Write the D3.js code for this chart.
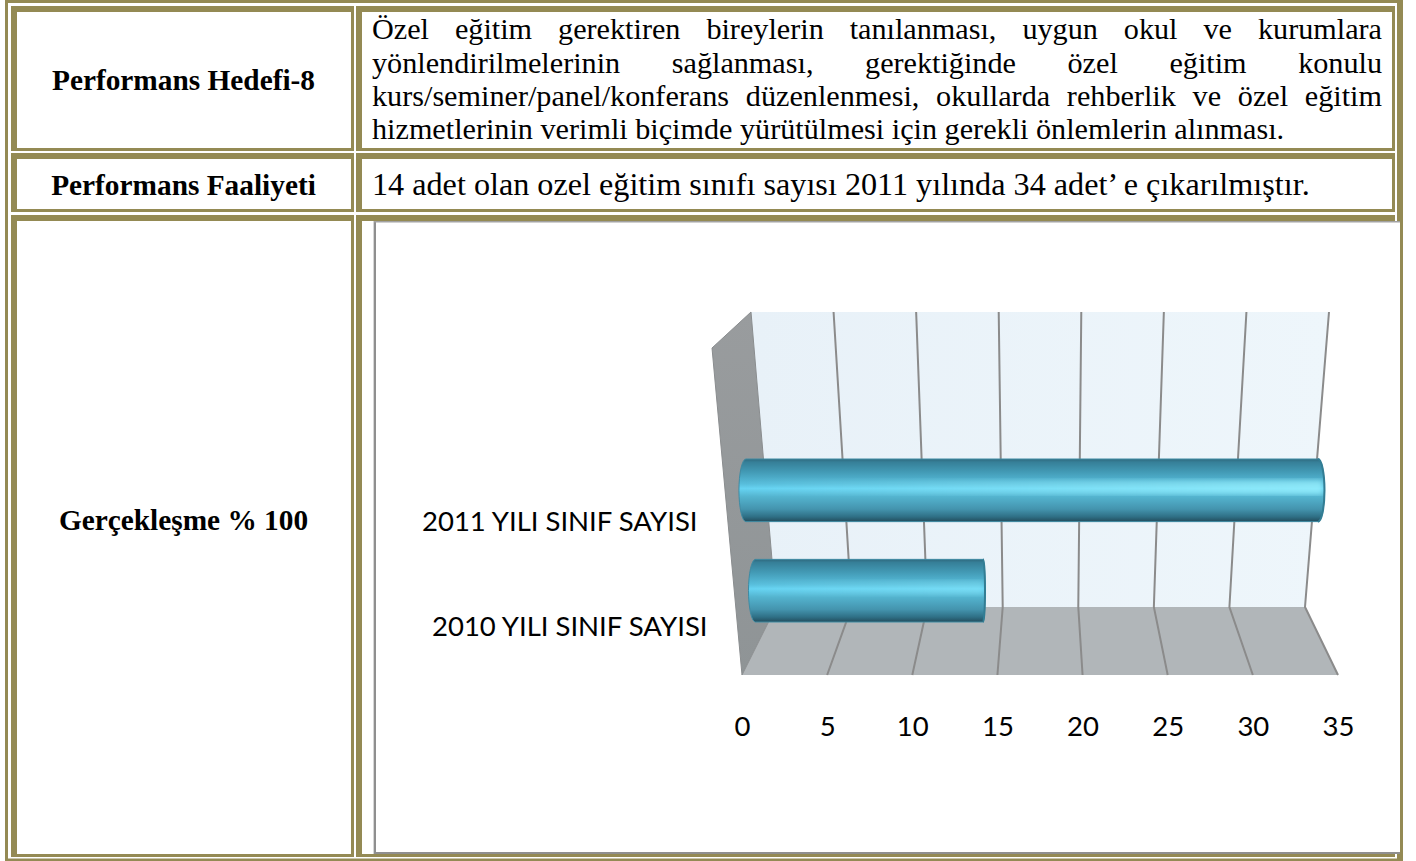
<!DOCTYPE html>
<html>
<head>
<meta charset="utf-8">
<script src="https://cdn.jsdelivr.net/npm/d3@7"></script>
<style>
  html, body { margin: 0; padding: 0; background: #fff; overflow: hidden; }
  svg { display: block; }
  .serif { font-family: "Liberation Serif", "Times New Roman", serif; fill: #000; }
  .sans { font-family: Lato, Carlito, sans-serif; fill: #000; }
</style>
</head>
<body>
<script>
// data
const categories = ["2011 YILI SINIF SAYISI", "2010 YILI SINIF SAYISI"];
const classCounts = [34, 14];
const tickValues = [0, 5, 10, 15, 20, 25, 30, 35];

const rowHeaders = ["Performans Hedefi-8", "Performans Faaliyeti", "Gerçekleşme % 100"];
const goalLines = [
  "Özel eğitim gerektiren bireylerin tanılanması, uygun okul ve kurumlara",
  "yönlendirilmelerinin sağlanması, gerektiğinde özel eğitim konulu",
  "kurs/seminer/panel/konferans düzenlenmesi, okullarda rehberlik ve özel eğitim",
  "hizmetlerinin verimli biçimde yürütülmesi için gerekli önlemlerin alınması."
];
const activityText = "14 adet olan ozel eğitim sınıfı sayısı 2011 yılında 34 adet’ e çıkarılmıştır.";

const width = 1416, height = 861;
const olive = "#948a54", gridGrey = "#8b8b8b";

const svg = d3.select("body").append("svg")
  .attr("width", width)
  .attr("height", height);

const defs = svg.append("defs");

// 1. Table frame and cells
svg.append("rect")
  .attr("x", 6.5).attr("y", 1.5)
  .attr("width", 1393.5).attr("height", 858.5)
  .attr("fill", "none").attr("stroke", olive).attr("stroke-width", 3);
svg.append("rect").attr("x", 1397).attr("y", 0).attr("width", 6).attr("height", 861).attr("fill", olive);
svg.append("rect").attr("x", 5).attr("y", 860).attr("width", 398).attr("height", 1).attr("fill", olive);

const rows = [
  {top: 6, bottom: 151},
  {top: 153, bottom: 212},
  {top: 215, bottom: 857}
];
const columns = [
  {left: 11, right: 354},
  {left: 356, right: 1395}
];
rows.forEach(r => columns.forEach(c => {
  svg.append("rect")
    .attr("x", c.left).attr("y", r.top)
    .attr("width", c.right - c.left).attr("height", r.bottom - r.top)
    .attr("fill", olive);
  svg.append("rect")
    .attr("x", c.left + 6).attr("y", r.top + 6)
    .attr("width", c.right - c.left - 9).attr("height", r.bottom - r.top - 9)
    .attr("fill", "#fff");
}));

// 2. Text in the cells
const headerBaselines = [90, 195, 530];
svg.selectAll(".row-header")
  .data(rowHeaders)
  .join("text")
  .attr("class", "row-header serif")
  .attr("x", 183.5)
  .attr("y", (d, i) => headerBaselines[i])
  .attr("text-anchor", "middle")
  .attr("font-size", 29.33)
  .attr("font-weight", "bold")
  .text(d => d);

// justified lines, the last one stays natural
const bodyLeft = 372, bodyRight = 1382;
const goalBaselines = [39, 72.5, 106, 139];
goalLines.forEach((line, i) => {
  const t = svg.append("text")
    .attr("class", "serif")
    .attr("x", bodyLeft)
    .attr("y", goalBaselines[i])
    .attr("font-size", 30.2)
    .text(line);
  if (i < goalLines.length - 1) {
    const gaps = line.split(" ").length - 1;
    const extra = (bodyRight - bodyLeft - t.node().getComputedTextLength()) / gaps;
    t.attr("word-spacing", extra);
  }
});

svg.append("text")
  .attr("class", "serif")
  .attr("x", bodyLeft)
  .attr("y", 195)
  .attr("font-size", 32.2)
  .text(activityText);

// 3. Chart picture area
svg.append("rect").attr("x", 362).attr("y", 221).attr("width", 1038).attr("height", 633).attr("fill", "#fff");
svg.append("rect").attr("x", 373).attr("y", 221).attr("width", 1).attr("height", 633).attr("fill", "#d6d6d6");
svg.append("rect").attr("x", 374).attr("y", 221).attr("width", 2).attr("height", 633).attr("fill", "#8f8f8f");
svg.append("rect").attr("x", 374).attr("y", 221).attr("width", 1026).attr("height", 1.5).attr("fill", "#a2a2a2");
svg.append("rect").attr("x", 374).attr("y", 852).attr("width", 1026).attr("height", 2).attr("fill", "#8f8f8f");

// 4. Perspective box: the same value axis at three depths
const plotTop = 312, plotBack = 607, plotFront = 675;
const maxValue = d3.max(tickValues);
const xTop = d3.scaleLinear().domain([0, maxValue]).range([751, 1329]);
const xBack = d3.scaleLinear().domain([0, maxValue]).range([776, 1305]);
const xFront = d3.scaleLinear().domain([0, maxValue]).range([742, 1338]);

const wallGrad = defs.append("linearGradient").attr("id", "backWall");
wallGrad.append("stop").attr("offset", 0).attr("stop-color", "#e8f1f8");
wallGrad.append("stop").attr("offset", 1).attr("stop-color", "#eef6fb");

const sideGrad = defs.append("linearGradient").attr("id", "sideWall")
  .attr("x1", 0).attr("y1", 0).attr("x2", 0).attr("y2", 1);
sideGrad.append("stop").attr("offset", 0).attr("stop-color", "#999c9e");
sideGrad.append("stop").attr("offset", 1).attr("stop-color", "#8f9496");

const poly = d3.line();

svg.append("path")
  .attr("d", poly([[xTop(0), plotTop], [xTop(maxValue), plotTop], [xBack(maxValue), plotBack], [xBack(0), plotBack]]) + "Z")
  .attr("fill", "url(#backWall)");

svg.append("path")
  .attr("d", poly([[xBack(0), plotBack], [xBack(maxValue), plotBack], [xFront(maxValue), plotFront], [xFront(0), plotFront]]) + "Z")
  .attr("fill", "#b1b6b9");

svg.append("path")
  .attr("d", poly([[712, 348], [xTop(0), plotTop], [xBack(0), plotBack], [xFront(0), plotFront]]) + "Z")
  .attr("fill", "url(#sideWall)")
  .attr("stroke", "#8a8d8f")
  .attr("stroke-width", 1);

// gridlines bend at the back edge of the floor
svg.append("g")
  .selectAll("path")
  .data(tickValues.slice(1))
  .join("path")
  .attr("d", d => poly([[xTop(d), plotTop], [xBack(d), plotBack], [xFront(d), plotFront]]))
  .attr("fill", "none")
  .attr("stroke", gridGrey)
  .attr("stroke-width", 2);

// value axis labels
const axis = svg.append("g")
  .attr("transform", `translate(0,${plotFront + 41})`)
  .call(d3.axisBottom(xFront).tickValues(tickValues).tickSize(0).tickPadding(0));
axis.select(".domain").remove();
axis.selectAll("text")
  .attr("class", "sans")
  .attr("font-size", 27.5)
  .attr("font-family", null);

// 5. Cylinder bars
const y = d3.scaleBand().domain(categories).range([459, 622]).paddingInner(0.376);

// bars sit between the walls, so zero and the far end drift with height
const zeroAt = d3.scaleLinear().domain([491, 591]).range([739, 748.5]);
const endAt = d3.scaleLinear().domain([491, 591]).range([1341.7, 1339.8]);
const rightCap = d3.scaleLinear().domain([985, 1324]).range([2, 6.5]);
const leftCap = 7;

const barGrad = defs.append("linearGradient").attr("id", "barBody")
  .attr("x1", 0).attr("y1", 0).attr("x2", 0).attr("y2", 1);
[[0, "#2f6a7f"], [0.05, "#367f98"], [0.2, "#4299b4"], [0.4, "#58bedc"], [0.47, "#66d3f2"],
 [0.6, "#54b4cf"], [0.8, "#4494ae"], [0.92, "#2f7086"], [1, "#234d5d"]]
  .forEach(s => barGrad.append("stop").attr("offset", s[0]).attr("stop-color", s[1]));

const glowGrad = defs.append("linearGradient").attr("id", "barGlow")
  .attr("gradientUnits", "userSpaceOnUse")
  .attr("x1", 744).attr("y1", 0).attr("x2", 1320).attr("y2", 0);
glowGrad.append("stop").attr("offset", 0).attr("stop-color", "#9ff4ff").attr("stop-opacity", 0);
glowGrad.append("stop").attr("offset", 1).attr("stop-color", "#9ff4ff").attr("stop-opacity", 0.7);

defs.append("filter").attr("id", "soft")
  .append("feGaussianBlur").attr("stdDeviation", 2.5);

const barData = categories.map((c, i) => {
  const top = y(c), bottom = top + y.bandwidth(), mid = (top + bottom) / 2;
  const x = d3.scaleLinear().domain([0, maxValue]).range([zeroAt(mid), endAt(mid)]);
  const x0 = x(0), x1 = x(classCounts[i]);
  return {c, top, bottom, mid, x0, x1, rx: rightCap(x1)};
});

const bars = svg.append("g").selectAll("g").data(barData).join("g");

bars.append("path")
  .attr("d", d => `M${d.x0 + leftCap},${d.top}L${d.x1 - d.rx},${d.top}` +
    `A${d.rx},${y.bandwidth() / 2} 0 0 1 ${d.x1 - d.rx},${d.bottom}` +
    `L${d.x0 + leftCap},${d.bottom}` +
    `A${leftCap},${y.bandwidth() / 2} 0 0 1 ${d.x0 + leftCap},${d.top}Z`)
  .attr("fill", "url(#barBody)")
  .attr("stroke", "#3f8ba3")
  .attr("stroke-width", 1);

bars.append("rect")
  .attr("x", d => d.x0 + 8)
  .attr("y", d => d.mid - 10)
  .attr("width", d => d.x1 - d.x0 - 10)
  .attr("height", 14)
  .attr("fill", "url(#barGlow)")
  .attr("filter", "url(#soft)");

// dark rim on the far end
bars.append("path")
  .attr("d", d => `M${d.x1 - d.rx},${d.top}A${d.rx},${y.bandwidth() / 2} 0 0 1 ${d.x1 - d.rx},${d.bottom}`)
  .attr("fill", "none")
  .attr("stroke", "#327d94")
  .attr("stroke-width", 2);

// category labels
const labelRight = [697.5, 707.5], labelBaseline = [531, 636];
svg.selectAll(".category-label")
  .data(categories)
  .join("text")
  .attr("class", "category-label sans")
  .attr("x", (d, i) => labelRight[i])
  .attr("y", (d, i) => labelBaseline[i])
  .attr("text-anchor", "end")
  .attr("font-size", 27.5)
  .text(d => d);
</script>
</body>
</html>
